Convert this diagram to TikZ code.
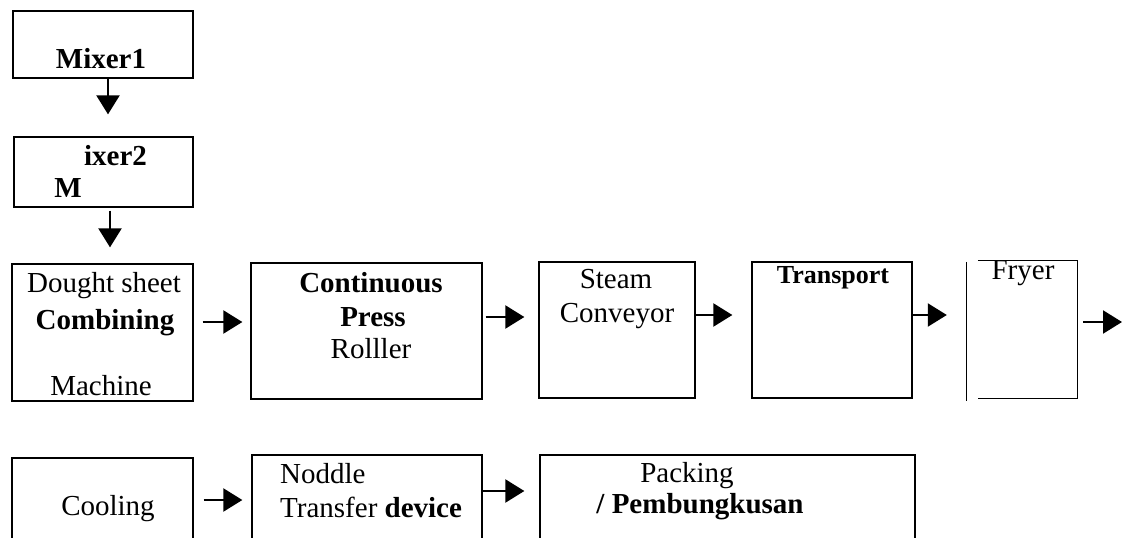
\documentclass[tikz,border=0pt]{standalone}
\usepackage{fontspec}
\setmainfont{Liberation Serif}
\usetikzlibrary{arrows.meta,calc}
\tikzset{
  box/.style={draw, line width=1.3pt, rectangle, inner sep=0pt},
  openbox/.style={rectangle, inner sep=0pt},
  txt/.style={inner sep=0pt, anchor=base, font=\fontsize{29}{34}\selectfont},
  btxt/.style={txt, font=\fontsize{29}{34}\selectfont\bfseries},
  arr/.style={line width=2.2pt, -{Triangle[length=19pt,width=23pt]}},
}
\begin{document}
\begin{tikzpicture}[x=1pt,y=-1pt]
\useasboundingbox (0,0) rectangle (1127,538);
\clip (0,0) rectangle (1127,538);
% top column
\node[box, minimum width=180, minimum height=67] (m1) at (103,44.5) {};
\node[btxt] (m1t) at (101,68) {Mixer1};
\node[box, minimum width=179, minimum height=70] (m2) at (103.5,172) {};
\node[btxt] (m2a) at (115.5,165) {ixer2};
\node[btxt] (m2b) at (68,197) {M};
% main row
\node[box, minimum width=181, minimum height=137] (b1) at (102.5,332.5) {};
\node[txt] (b1a) at (104,292) {Dought sheet};
\node[btxt] (b1b) at (105,329) {Combining};
\node[txt] (b1c) at (101,395) {Machine};
\node[box, minimum width=231, minimum height=136] (b2) at (366.5,331) {};
\node[btxt] (b2a) at (371,292) {Continuous};
\node[btxt] (b2b) at (373,326) {Press};
\node[txt] (b2c) at (371,358) {Rolller};
\node[box, minimum width=156, minimum height=136] (b3) at (617,330) {};
\node[txt] (b3a) at (616,288) {Steam};
\node[txt] (b3b) at (617,322) {Conveyor};
\node[box, minimum width=160, minimum height=136] (b4) at (832,330) {};
\node[btxt, font=\fontsize{26}{30}\selectfont\bfseries] (b4a) at (833,283) {Transport};
\node[openbox, minimum width=99, minimum height=137] (b5) at (1027.5,329.5) {};
\draw[line width=1.3pt] (b5.north west) -- (b5.north east) -- (b5.south east) -- (b5.south west);
\draw[line width=1.3pt] ($(b5.north west)+(-11,1)$) -- ($(b5.south west)+(-11,2.5)$);
\node[txt] (b5a) at (1023,279) {Fryer};
\coordinate (out) at (1122,322);
% bottom row
\node[box, minimum width=181, minimum height=102] (c1) at (102.5,509) {};
\node[txt] (c1a) at (108,515) {Cooling};
\node[box, minimum width=230, minimum height=105] (c2) at (367,507.5) {};
\node[txt, anchor=base west] (c2a) at (280,483) {Noddle};
\node[txt, anchor=base west] (c2b) at (280,517) {Transfer \textbf{device}};
\node[box, minimum width=375, minimum height=105] (c3) at (727.5,507.5) {};
\node[txt] (c3a) at (687,482) {Packing};
\node[btxt] (c3b) at (700,513) {/ Pembungkusan};
% arrows
\draw[arr] ($(m1.south)+(5,0)$) -- ($(m2.north)+(4.5,-22)$);
\draw[arr] ($(m2.south)+(6.5,3)$) -- ($(b1.north)+(7.5,-16)$);
\draw[arr] ($(b1.east)+(9,-10.5)$) -- ($(b2.west)+(-8,-9)$);
\draw[arr] ($(b2.east)+(3,-14)$) -- ($(b3.west)+(-14,-13)$);
\draw[arr] ($(b3.east)+(0,-15)$) -- ($(b4.west)+(-19,-15)$);
\draw[arr] ($(b4.east)+(0,-15)$) -- ($(b5.west)+(-31,-14.5)$);
\draw[arr] ($(b5.east)+(6,-7.5)$) -- (out);
\draw[arr] ($(c1.east)+(10,-9)$) -- ($(c2.west)+(-9,-7.5)$);
\draw[arr] ($(c2.east)+(0,-16.5)$) -- ($(c3.west)+(-15,-16.5)$);
\end{tikzpicture}
\end{document}
